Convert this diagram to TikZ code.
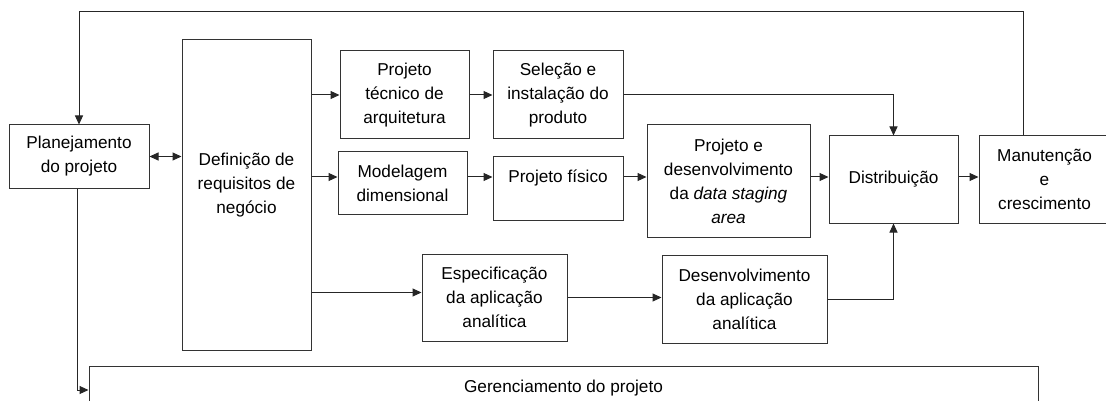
\documentclass[tikz,border=0pt]{standalone}
\usepackage{fontspec}
\setmainfont{Liberation Sans}
\usetikzlibrary{arrows.meta}

\begin{document}
\begin{tikzpicture}[x=1pt, y=-1pt, font=\fontsize{17.2}{24}\selectfont,
    >={Triangle[length=9pt,width=8pt]},
    blk/.style={draw=black!80, line width=1pt, rectangle, align=center, inner sep=0pt},
    conn/.style={->, line width=1pt, draw=black!85}]
  \useasboundingbox (0,0) rectangle (1106,401);

  \node[blk, minimum width=140pt, minimum height=63pt] (plan) at (79,156.5) {Planejamento\\do projeto};
  \node[blk, minimum width=129pt, minimum height=310pt] (req) at (246.5,195) {Defini\c{c}\~ao de\\requisitos de\\neg\'ocio\\\mbox{}};
  \node[blk, minimum width=129pt, minimum height=88pt] (tec) at (404.5,95) {Projeto\\t\'ecnico de\\arquitetura};
  \node[blk, minimum width=130pt, minimum height=88pt] (sel) at (558,95) {Sele\c{c}\~ao e\\instala\c{c}\~ao do\\produto};
  \node[blk, minimum width=129pt, minimum height=62pt] (mod) at (402.5,183) {Modelagem\\dimensional};
  \node[blk, minimum width=130pt, minimum height=63pt] (fis) at (558,188.5) {Projeto f\'isico\\\mbox{}};
  \node[blk, minimum width=163pt, minimum height=112pt] (dsa) at (728.5,181) {Projeto e\\desenvolvimento\\da \textit{data staging}\\\textit{area}};
  \node[blk, minimum width=129pt, minimum height=87pt] (dist) at (893.5,179.5) {Distribui\c{c}\~ao};
  \node[blk, minimum width=131pt, minimum height=87pt] (man) at (1044.5,179.5) {Manuten\c{c}\~ao\\e\\crescimento};
  \node[blk, minimum width=145pt, minimum height=87pt] (esp) at (494.5,297.5) {Especifica\c{c}\~ao\\da aplica\c{c}\~ao\\anal\'itica};
  \node[blk, minimum width=165pt, minimum height=88pt] (dev) at (744.5,299) {Desenvolvimento\\da aplica\c{c}\~ao\\anal\'itica};
  \node[blk, minimum width=949pt, minimum height=44pt] (ger) at (563.5,388) {\raisebox{4pt}{Gerenciamento do projeto}};

  \coordinate (row) at (0,177);
  \coordinate (top) at (79,12);

  \draw[conn] ([xshift=-21pt]man.north) |- (top) -- (plan.north);
  \draw[conn, <->] (plan.east) -- (plan.east -| req.west);
  \draw[conn] (req.east |- tec) -- (tec);
  \draw[conn] (req.east |- row) -- (mod.west |- row);
  \draw[conn] ([yshift=5pt]req.east |- esp) -- ([yshift=5pt]esp.west);
  \draw[conn] (tec) -- (sel);
  \draw[conn] (sel) -| (dist);
  \draw[conn] (mod.east |- row) -- (fis.west |- row);
  \draw[conn] (fis.east |- row) -- (dsa.west |- row);
  \draw[conn] (dsa.east |- row) -- (dist.west |- row);
  \draw[conn] (dist.east |- row) -- (man.west |- row);
  \draw[conn] (esp) -- (esp -| dev.west);
  \draw[conn] (dev) -| (dist);
  \draw[conn] ([xshift=-2pt]plan.south) |- ([yshift=-2pt]ger.west);
\end{tikzpicture}
\end{document}
